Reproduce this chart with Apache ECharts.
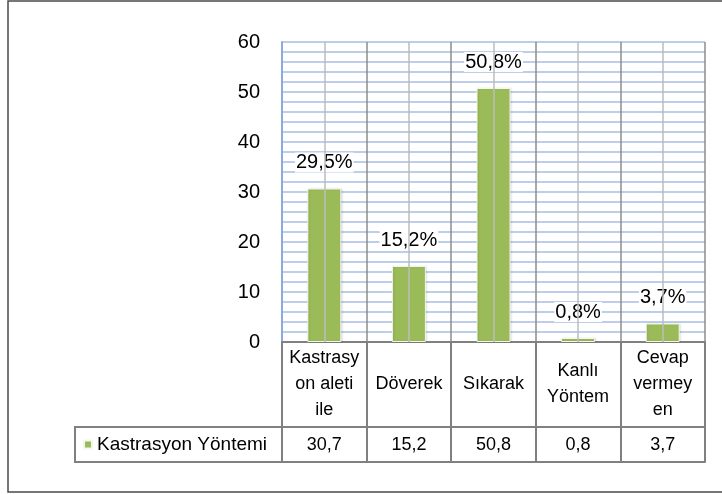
<!DOCTYPE html>
<html>
<head>
<meta charset="utf-8">
<script src="https://cdn.jsdelivr.net/npm/echarts@6/dist/echarts.min.js"></script>
<style>
  html, body { margin: 0; padding: 0; background: #fff; }
  #main { width: 722px; height: 494px; }
</style>
</head>
<body>
<div id="main"></div>
<script>
var categories = ['Kastrasy\non aleti\nile', 'Döverek', 'Sıkarak', 'Kanlı\nYöntem', 'Cevap\nvermey\nen'];
var seriesName = 'Kastrasyon Yöntemi';
var values = [30.7, 15.2, 50.8, 0.8, 3.7];
var barLabels = ['29,5%', '15,2%', '50,8%', '0,8%', '3,7%'];
var yTicks = [0, 10, 20, 30, 40, 50, 60];

var font = 'Liberation Sans, Arial, sans-serif';
var tableLine = '#808080';

function fmt(v) {
    return String(v).replace('.', ',');
}

var chartDom = document.getElementById('main');
var myChart = echarts.init(chartDom);
var option;

option = {
    animation: false,
    textStyle: { fontFamily: font, color: '#000' },
    grid: { left: 282, right: 17, top: 42, bottom: 152 },
    legend: {
        data: [seriesName],
        left: 83,
        top: 435,
        padding: 0,
        icon: 'rect',
        itemWidth: 8,
        itemHeight: 8,
        textStyle: { fontSize: 19, color: '#000', fontFamily: font }
    },
    xAxis: [
        {
            type: 'category',
            data: categories,
            position: 'bottom',
            axisLine: { lineStyle: { color: tableLine, width: 2 } },
            axisTick: { show: true, length: 120, lineStyle: { color: tableLine, width: 2 } },
            axisLabel: {
                interval: 0,
                margin: 42,
                verticalAlign: 'middle',
                lineHeight: 26,
                fontSize: 18,
                color: '#000',
                fontFamily: font
            },
            splitLine: { show: true, lineStyle: { color: '#8c8c8c', width: 1.5 } }
        },
        {
            type: 'category',
            data: categories,
            position: 'bottom',
            offset: 85,
            axisLine: { lineStyle: { color: tableLine, width: 2 } },
            axisTick: { show: false },
            axisLabel: {
                interval: 0,
                margin: 18,
                verticalAlign: 'middle',
                fontSize: 18,
                color: '#000',
                fontFamily: font,
                formatter: function (v, i) { return fmt(values[i]); }
            }
        },
        {
            type: 'category',
            data: categories,
            position: 'bottom',
            offset: 120,
            axisLine: { lineStyle: { color: tableLine, width: 2 } },
            axisTick: { show: false },
            axisLabel: { show: false }
        }
    ],
    yAxis: {
        type: 'value',
        min: yTicks[0],
        max: yTicks[yTicks.length - 1],
        interval: 10,
        axisLine: { show: true, lineStyle: { color: '#8eaadb', width: 2 } },
        axisTick: { show: false },
        axisLabel: { margin: 22, fontSize: 20, color: '#000', fontFamily: font },
        splitLine: { lineStyle: { color: '#a7bee6', width: 1.5 } },
        minorTick: { show: false, splitNumber: 5 },
        minorSplitLine: { show: true, lineStyle: { color: '#a7bee6', width: 1.5 } }
    },
    graphic: [
        {
            type: 'rect',
            shape: { x: 75, y: 427, width: 207, height: 35 },
            style: { fill: 'none', stroke: tableLine, lineWidth: 2 }
        },
        {
            type: 'rect',
            shape: { x: 8, y: 1, width: 730, height: 491 },
            style: { fill: 'none', stroke: '#4a4a4a', lineWidth: 1.5 }
        }
    ],
    series: [
        {
            name: 'centers',
            type: 'line',
            data: [],
            z: 1,
            silent: true,
            markLine: {
                silent: true,
                symbol: 'none',
                label: { show: false },
                lineStyle: { color: '#bcbcbc', width: 1.5, type: 'solid' },
                data: categories.map(function (c) { return { xAxis: c }; })
            }
        },
        {
            name: seriesName,
            type: 'bar',
            barWidth: 34,
            z: 3,
            data: values,
            itemStyle: {
                color: '#9bbb59',
                borderColor: '#f4f7ee',
                borderWidth: 1,
                shadowBlur: 2,
                shadowColor: 'rgba(0,0,0,0.12)',
                shadowOffsetX: 1,
                shadowOffsetY: 0
            },
            label: {
                show: true,
                position: 'top',
                distance: 16,
                fontSize: 20,
                color: '#000',
                fontFamily: font,
                backgroundColor: '#fff',
                padding: [0, 1],
                formatter: function (p) { return barLabels[p.dataIndex]; }
            }
        }
    ]
};

option && myChart.setOption(option);
</script>
</body>
</html>
